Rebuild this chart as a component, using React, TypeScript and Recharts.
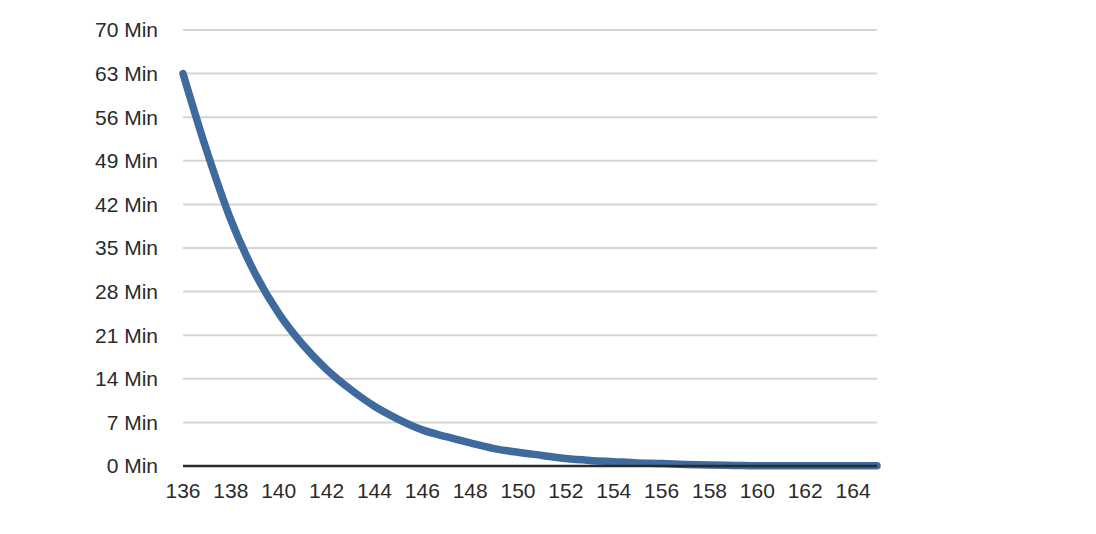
import { LineChart, Line, CartesianGrid, XAxis, YAxis } from "recharts";

const minutes = [136, 137, 138, 139, 140, 141, 142, 143, 144, 145, 146, 147, 148, 149, 150, 151, 152, 153, 154, 155, 156, 157, 158, 159, 160, 161, 162, 163, 164, 165];
const durations = [63, 50.5, 39.5, 31, 24.5, 19.5, 15.5, 12.3, 9.6, 7.5, 5.8, 4.7, 3.7, 2.8, 2.2, 1.7, 1.2, 0.9, 0.7, 0.5, 0.4, 0.25, 0.15, 0.1, 0.05, 0.05, 0.05, 0.05, 0.05, 0.05];
const xTicks = [136, 138, 140, 142, 144, 146, 148, 150, 152, 154, 156, 158, 160, 162, 164];
const yTicks = [0, 7, 14, 21, 28, 35, 42, 49, 56, 63, 70];

const data = minutes.map((m, i) => ({ x: m, value: durations[i] }));

export default function App() {
  return (
    <div style={{ position: "absolute", left: 0, top: 0, background: "#fff" }}>
      <LineChart
        width={1096}
        height={534}
        data={data}
        margin={{ top: 30, right: 219, left: 83, bottom: 38 }}
        style={{ fontFamily: "'Liberation Sans', Arial, sans-serif" }}
      >
        <CartesianGrid
          vertical={false}
          stroke="#d4d4d4"
          strokeWidth={2}
        />

        <XAxis
          dataKey="x"
          type="number"
          domain={[136, 165]}
          ticks={xTicks}
          interval={0}
          height={30}
          tickLine={false}
          tickSize={0}
          tickMargin={17}
          stroke="#2a2a2a"
          strokeWidth={2.5}
          tick={{ fontSize: 21, fill: "#2b2b2b" }}
        />

        <YAxis
          type="number"
          domain={[0, 70]}
          ticks={yTicks}
          interval={0}
          width={100}
          axisLine={false}
          tickLine={false}
          tickSize={0}
          tickMargin={25}
          tick={{ fontSize: 21, fill: "#2b2b2b" }}
          tickFormatter={(v) => `${v} Min`}
        />

        <Line
          type="monotone"
          dataKey="value"
          stroke="#3e6a9e"
          strokeWidth={7.5}
          strokeLinecap="round"
          dot={false}
          isAnimationActive={false}
        />
      </LineChart>
    </div>
  );
}
